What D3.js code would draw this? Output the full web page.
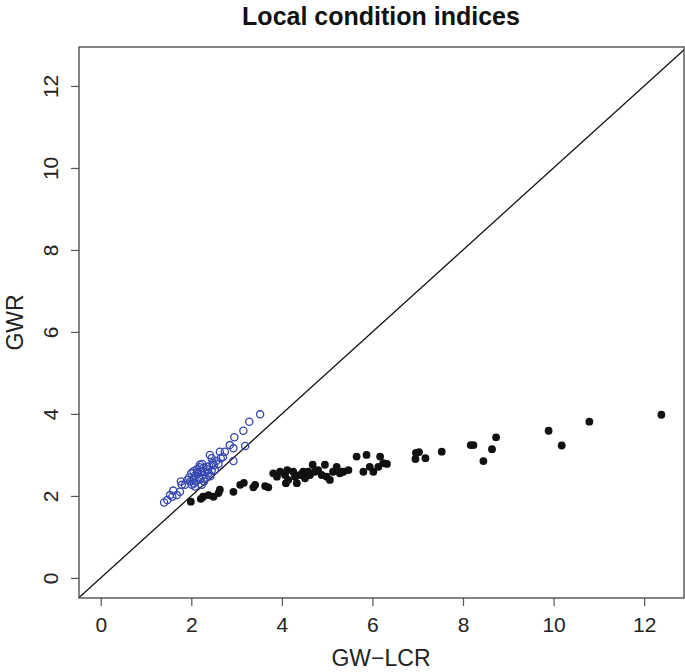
<!DOCTYPE html>
<html><head><meta charset="utf-8">
<script src="https://cdn.jsdelivr.net/npm/d3@7"></script>
<style>body{margin:0;background:#fff}svg{display:block}text{font-family:"Liberation Sans",Arial,sans-serif}</style>
</head><body>
<svg id="c" width="685" height="672"></svg>
<script>
// GW-LCR (black filled points)
const lcrX = [1.99,2.21,2.26,2.38,2.49,2.60,2.63,2.93,3.08,3.16,3.37,3.41,3.63,3.70,3.81,3.89,3.96,4.07,4.12,4.14,4.09,4.29,4.33,4.40,4.47,4.51,4.62,4.68,4.73,4.80,4.88,4.95,4.99,5.06,5.13,5.21,5.28,5.36,5.47,5.65,5.80,5.87,5.94,6.02,6.17,6.13,6.24,6.32,6.95,7.03,6.96,7.17,7.53,8.17,8.23,8.73,8.64,8.45,9.89,10.18,10.79,12.38,4.25,4.58,5.32];
const lcrY = [1.86,1.93,1.98,2.02,1.98,2.07,2.15,2.10,2.27,2.32,2.21,2.27,2.24,2.21,2.55,2.47,2.59,2.51,2.63,2.39,2.31,2.47,2.31,2.51,2.59,2.43,2.51,2.76,2.59,2.63,2.51,2.76,2.47,2.39,2.59,2.71,2.55,2.59,2.63,2.96,2.59,3.00,2.71,2.59,2.96,2.71,2.80,2.78,2.90,3.07,3.05,2.92,3.08,3.24,3.24,3.43,3.14,2.85,3.59,3.23,3.81,3.98,2.59,2.59,2.59];
// second series (blue open circles)
const altX = [1.40,1.47,1.53,1.60,1.58,1.68,1.75,1.79,1.77,1.86,1.91,2.01,2.08,2.23,2.19,2.34,2.41,2.45,2.47,2.52,2.63,2.65,2.74,2.85,2.95,2.93,2.93,3.15,3.19,3.28,3.52,1.95,2.00,2.03,2.05,2.08,2.10,2.12,2.15,2.17,2.18,2.20,2.22,2.25,2.27,2.28,2.30,2.32,2.35,2.38,2.40,2.42,2.45,2.50,2.55,2.60,2.70,2.06,1.98,2.13,2.24];
const altY = [1.84,1.90,2.02,2.13,1.98,2.02,2.10,2.27,2.35,2.27,2.39,2.27,2.23,2.27,2.76,2.71,3.00,2.92,2.80,2.63,3.08,2.92,3.08,3.24,3.43,3.16,2.85,3.59,3.22,3.81,3.99,2.45,2.55,2.40,2.60,2.50,2.35,2.65,2.55,2.45,2.70,2.40,2.60,2.50,2.68,2.35,2.58,2.45,2.65,2.55,2.72,2.48,2.62,2.75,2.85,2.78,2.95,2.30,2.35,2.58,2.78];
const xTicks = [0,2,4,6,8,10,12];
const yTicks = [0,2,4,6,8,10,12];
const titleText = "Local condition indices";
const xTitle = "GW\u2212LCR";
const yTitle = "GWR";

const svg = d3.select("#c");
const L=79, R=684, T=47, B=598;
const x = d3.scaleLinear().domain([-0.48,12.88]).range([L,R]);
const y = d3.scaleLinear().domain([-0.49,12.95]).range([B,T]);

svg.append("defs").append("clipPath").attr("id","clip")
  .append("rect").attr("x",L).attr("y",T).attr("width",R-L).attr("height",B-T);

// axes
const xa = svg.append("g").attr("transform",`translate(0,${B})`)
  .call(d3.axisBottom(x).tickValues(xTicks).tickSize(8).tickFormat(d3.format("d")));
const ya = svg.append("g").attr("transform",`translate(${L},0)`)
  .call(d3.axisLeft(y).tickValues(yTicks).tickSize(8).tickFormat(d3.format("d")));
[xa,ya].forEach(g=>{
  g.select(".domain").remove();
  g.selectAll(".tick line").attr("stroke","#555").attr("stroke-width",1.2);
  g.selectAll(".tick text").attr("font-size",21).attr("fill","#222")
   .attr("font-family",'"Liberation Sans",Arial,sans-serif');
});
xa.selectAll(".tick text").attr("y",34).attr("dy",0);
ya.selectAll(".tick text").attr("text-anchor","middle")
  .each(function(){
    d3.select(this).attr("x",null).attr("dy",0).attr("transform",`translate(-21.5,0) rotate(-90)`);
  });

// diagonal
svg.append("line").attr("clip-path","url(#clip)")
  .attr("x1",x(-1)).attr("y1",y(-1)).attr("x2",x(14)).attr("y2",y(14))
  .attr("stroke","#111").attr("stroke-width",1.3);

// points
svg.append("g").selectAll("circle").data(altX.map((v,i)=>[v,altY[i]])).join("circle")
  .attr("cx",d=>x(d[0])).attr("cy",d=>y(d[1])).attr("r",3.6)
  .attr("fill","none").attr("stroke","#3446b0").attr("stroke-width",1.3);
svg.append("g").selectAll("circle").data(lcrX.map((v,i)=>[v,lcrY[i]])).join("circle")
  .attr("cx",d=>x(d[0])).attr("cy",d=>y(d[1])).attr("r",3.9)
  .attr("fill","#111");

// box
svg.append("rect").attr("x",L).attr("y",T).attr("width",R-L).attr("height",B-T)
  .attr("fill","none").attr("stroke","#444").attr("stroke-width",1.3);

// titles
svg.append("text").attr("x",381).attr("y",25).attr("text-anchor","middle")
  .attr("font-size",25).attr("font-weight","bold").attr("fill","#111").text(titleText);
svg.append("text").attr("x",381).attr("y",666).attr("text-anchor","middle")
  .attr("font-size",23).attr("fill","#222").text(xTitle);
svg.append("text").attr("transform",`translate(23,${(T+B)/2}) rotate(-90)`).attr("text-anchor","middle")
  .attr("font-size",23).attr("fill","#222").text(yTitle);
</script>
</body></html>
